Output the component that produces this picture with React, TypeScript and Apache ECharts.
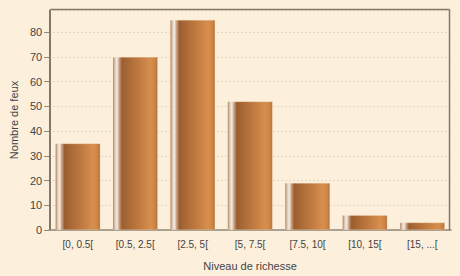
import React, { useEffect, useRef } from "react";
import * as echarts from "echarts";

const categories = ["[0, 0.5[", "[0.5, 2.5[", "[2.5, 5[", "[5, 7.5[", "[7.5, 10[", "[10, 15[", "[15, ...["];
const values = [35, 70, 85, 52, 19, 6, 3];
const xTitle = "Niveau de richesse";
const yTitle = "Nombre de feux";

export default function App() {
  const ref = useRef<HTMLDivElement>(null);
  useEffect(() => {
    if (!ref.current) return;
    const chart = echarts.init(ref.current, null, { renderer: "svg" });
    const barColor = new echarts.graphic.LinearGradient(0, 0, 1, 0, [
      { offset: 0, color: "#a8764e" },
      { offset: 0.04, color: "#d9c6b4" },
      { offset: 0.09, color: "#f4ece4" },
      { offset: 0.14, color: "#c8a080" },
      { offset: 0.2, color: "#9c5e30" },
      { offset: 0.5, color: "#b8743c" },
      { offset: 0.85, color: "#d88f4e" },
      { offset: 0.95, color: "#c98444" },
      { offset: 1, color: "#b06e3a" },
    ]);
    chart.setOption({
      animation: false,
      backgroundColor: "#fcefdc",
      textStyle: { fontFamily: "Liberation Sans, Arial, sans-serif" },
      grid: { left: 48, right: 9, top: 10, bottom: 46, containLabel: false },
      graphic: [
        { type: "line", shape: { x1: 50.5, y1: 9.5, x2: 449.5, y2: 9.5 }, style: { stroke: "#807868", lineWidth: 1.5 }, z: 10 },
        { type: "line", shape: { x1: 449.5, y1: 9.5, x2: 449.5, y2: 230 }, style: { stroke: "#807868", lineWidth: 1.5 }, z: 10 },
        { type: "line", shape: { x1: 50.5, y1: 9.5, x2: 50.5, y2: 230 }, style: { stroke: "#807868", lineWidth: 1 }, z: 10 },
      ],
      xAxis: {
        type: "category",
        data: categories,
        offset: 3,
        name: xTitle,
        nameLocation: "middle",
        nameGap: 27,
        nameTextStyle: { color: "#444", fontSize: 11 },
        axisLine: { lineStyle: { color: "#908878", width: 1.5 } },
        axisTick: { alignWithLabel: true, length: 3, lineStyle: { color: "#908878" } },
        axisLabel: { color: "#444", fontSize: 10, margin: 6 },
      },
      yAxis: {
        type: "value",
        min: 0,
        max: 89,
        interval: 10,
        name: yTitle,
        nameLocation: "middle",
        nameGap: 28,
        nameTextStyle: { color: "#444", fontSize: 11 },
        axisLine: { show: true, lineStyle: { color: "#807868", width: 1 } },
        axisTick: { show: true, length: 5, lineStyle: { color: "#908878" } },
        axisLabel: { color: "#444", fontSize: 11, margin: 7, showMaxLabel: false },
        splitLine: { show: true, lineStyle: { color: "#e6d6c0", type: [2, 2] } },
      },
      series: [
        {
          type: "bar",
          data: values,
          barWidth: 45,
          itemStyle: { color: barColor, borderColor: "rgba(255,230,200,0.5)", borderWidth: 0.5 },
        },
      ],
    });
    return () => chart.dispose();
  }, []);
  return <div ref={ref} style={{ width: 460, height: 276, position: "absolute", left: 0, top: 0 }} />;
}
